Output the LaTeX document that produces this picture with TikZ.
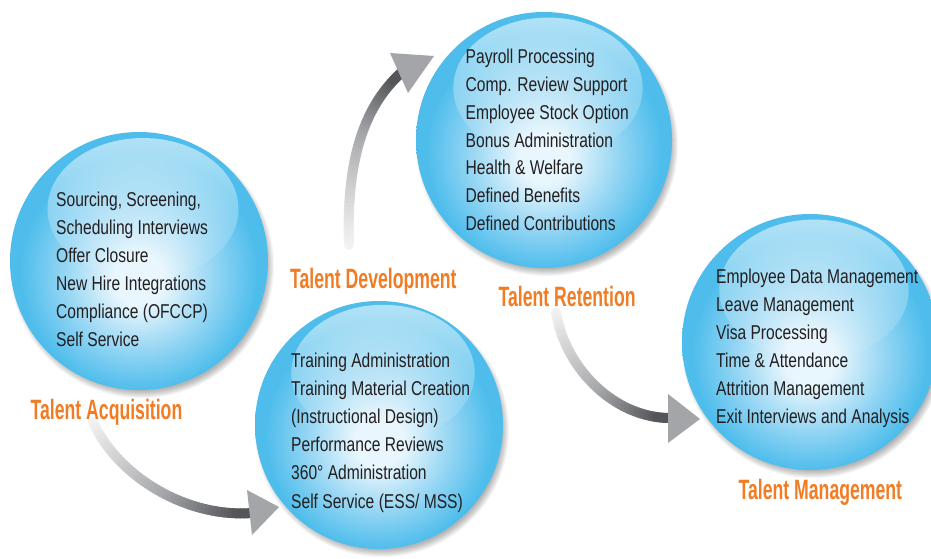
\documentclass[tikz,border=0pt]{standalone}
\usepackage{fontspec}
\usetikzlibrary{fadings,calc}
\newfontfamily\bodyfont{Liberation Sans}[FakeStretch=0.78]
\newfontfamily\labelfont{Liberation Sans}[UprightFont={* Bold},FakeStretch=0.63]
\definecolor{bubE}{RGB}{78,189,236}
\definecolor{bubM}{RGB}{145,212,243}
\definecolor{bubC}{RGB}{232,246,253}
\definecolor{lblorange}{RGB}{242,124,36}
\definecolor{txtdark}{RGB}{35,31,32}
\definecolor{shaftlight}{RGB}{246,246,246}
\definecolor{shaftmid}{RGB}{168,169,172}
\definecolor{shaftdark}{RGB}{84,85,88}
\definecolor{headgrey}{RGB}{164,165,169}
\pgfdeclareradialshading{bubble}{\pgfpoint{0bp}{-4bp}}{color(0bp)=(bubC); color(5bp)=(bubC); color(15bp)=(bubM); color(23bp)=(bubE); color(50bp)=(bubE)}
\begin{tikzfadingfrompicture}[name=glossfade]
  \shade[top color=white, bottom color=black] (0,0) rectangle (2,2);
\end{tikzfadingfrompicture}
\tikzset{
  bubblenode/.style={circle, inner sep=0pt, minimum size=#1, shade, shading=bubble},
  item/.style={anchor=base west, inner sep=0pt, font=\bodyfont\fontsize{20}{23}\selectfont, text=txtdark},
  lbl/.style={anchor=base west, inner sep=0pt, font=\labelfont\fontsize{28}{32}\selectfont, text=lblorange},
  shaftline/.style={line width=10pt, line cap=round},
  headtri/.style={fill=headgrey}
}
\newcommand\bubshadow[2]{%
  \foreach \k in {0,...,7}{%
    \fill[black, opacity=0.04] ($(#1)+(3,5)$) circle [radius={(#2+3-\k)*1pt}];%
  }%
}
\newcommand\gloss[2]{%
  \fill[white, fill opacity=0.6, path fading=glossfade] ($(#1)+(4,-52)$) ellipse [x radius={0.74*#2*1pt}, y radius={0.55*#2*1pt}];%
}
\newcommand\gradshaft[5]{%
  \foreach \i in {0,...,50}{%
    \pgfmathsetmacro\pp{\i/50}%
    \path #2 .. controls #3 and #4 .. #5 coordinate[pos=\pp] (#1\i);%
  }%
  \foreach \i in {1,...,50}{%
    \pgfmathtruncatemacro\j{\i-1}%
    \pgfmathsetmacro\pa{min(100,100*\i/50/0.55)}%
    \pgfmathsetmacro\pb{max(0,min(100,100*(\i/50-0.55)/0.4))}%
    \colorlet{segtmp}{shaftmid!\pa!shaftlight}%
    \colorlet{segcol}{shaftdark!\pb!segtmp}%
    \draw[shaftline, segcol] (#1\j) -- (#1\i);%
  }%
}
\begin{document}
\begin{tikzpicture}[x=1pt,y=-1pt]
\useasboundingbox (0,0) rectangle (931,559);
\clip (0,0) rectangle (931,559);
\fill[white] (0,0) rectangle (931,559);

% centres
\coordinate (c1) at (139,261);
\coordinate (c2) at (379,425);
\coordinate (c3) at (544,140);
\coordinate (c4) at (810,342);

% shadows
\bubshadow{c1}{129}
\bubshadow{c2}{124}
\bubshadow{c3}{128}
\bubshadow{c4}{128}

% bubbles
\node[bubblenode=258pt] (acq) at (c1) {};
\node[bubblenode=248pt] (dev) at (c2) {};
\node[bubblenode=256pt] (ret) at (c3) {};
\node[bubblenode=256pt] (mgt) at (c4) {};

\gloss{c1}{129}
\gloss{c2}{124}
\gloss{c3}{128}
\gloss{c4}{128}

% arrow 1: acquisition -> development
\coordinate (s1) at (93,422);
\coordinate (s1a) at (118,477);
\coordinate (s1b) at (187,518);
\coordinate (e1) at (252,513);
\gradshaft{ap}{(s1)}{(s1a)}{(s1b)}{(e1)}
\coordinate (h1a) at (247,490);
\coordinate (h1b) at (252,535);
\coordinate (h1t) at (279,507);
\fill[headtri] (h1a) -- (h1b) -- (h1t) -- cycle;

% arrow 2: development -> retention
\coordinate (s2) at (349,245);
\coordinate (s2a) at (346,160);
\coordinate (s2b) at (364,106);
\coordinate (e2) at (402,72);
\gradshaft{bp}{(s2)}{(s2a)}{(s2b)}{(e2)}
\coordinate (h2a) at (390,53);
\coordinate (h2b) at (408,93);
\coordinate (h2t) at (434,56);
\fill[headtri] (h2a) -- (h2b) -- (h2t) -- cycle;

% arrow 3: retention -> management
\coordinate (s3) at (556,312);
\coordinate (s3a) at (565,369);
\coordinate (s3b) at (615,418);
\coordinate (e3) at (670,418);
\gradshaft{cp}{(s3)}{(s3a)}{(s3b)}{(e3)}
\coordinate (h3a) at (668,394);
\coordinate (h3b) at (668,443);
\coordinate (h3t) at (700,419);
\fill[headtri] (h3a) -- (h3b) -- (h3t) -- cycle;

% texts
\foreach \txt [count=\i] in {{Sourcing, Screening,},{Scheduling Interviews},{Offer Closure},{New Hire Integrations},{Compliance (OFCCP)},{Self Service}}
  \node[item] (acqt\i) at (56,{206.5+28*(\i-1)}) {\txt};
\foreach \txt [count=\i] in {{Training Administration},{Training Material Creation},{(Instructional Design)},{Performance Reviews},{360° Administration},{Self Service (ESS/ MSS)}}
  \node[item] (devt\i) at (291,{367.5+28.1*(\i-1)}) {\txt};
\foreach \txt [count=\i] in {{Payroll Processing},{Comp. Review Support},{Employee Stock Option},{Bonus Administration},{Health \& Welfare},{Defined Benefits},{Defined Contributions}}
  \node[item] (rett\i) at (465.5,{63.3+27.9*(\i-1)}) {\txt};
\foreach \txt [count=\i] in {{Employee Data Management},{Leave Management},{Visa Processing},{Time \& Attendance},{Attrition Management},{Exit Interviews and Analysis}}
  \node[item] (mgtt\i) at (716,{283.3+28.1*(\i-1)}) {\txt};

% labels
\node[lbl] (lacq) at (30.5,419) {Talent Acquisition};
\node[lbl] (ldev) at (290,288) {Talent Development};
\node[lbl] (lret) at (498.5,306) {Talent Retention};
\node[lbl] (lmgt) at (738.5,499) {Talent Management};
\end{tikzpicture}
\end{document}
